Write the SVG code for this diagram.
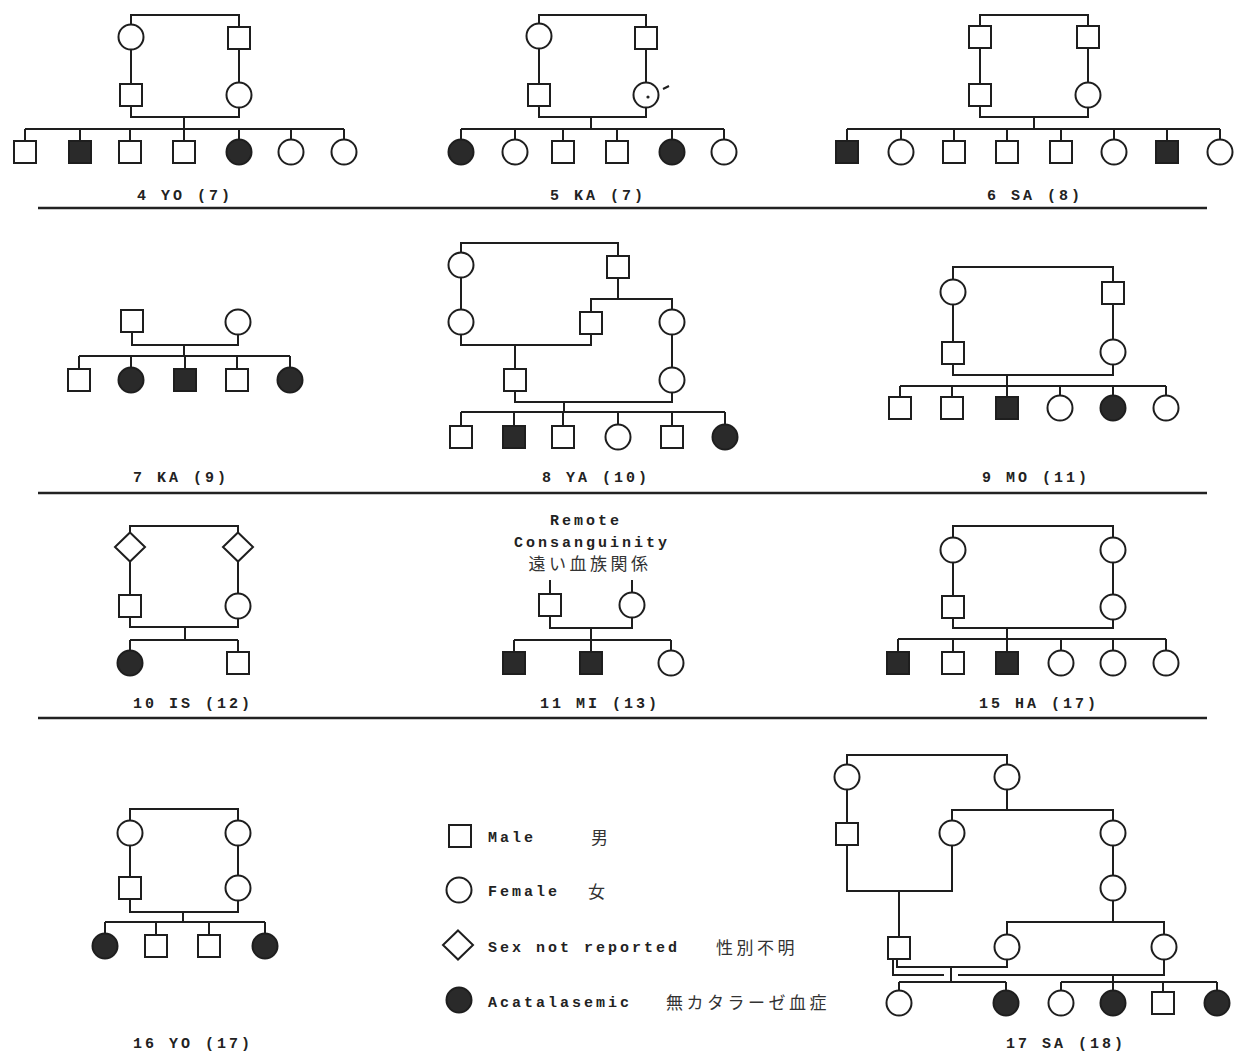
<svg xmlns="http://www.w3.org/2000/svg" xmlns:xlink="http://www.w3.org/1999/xlink" width="1235" height="1053" viewBox="0 0 1235 1053">
<style>
.o{fill:#fff;stroke:#1e1e1e;stroke-width:2}
.f{fill:#2a2a2a;stroke:#1e1e1e;stroke-width:2}
.c{fill:none;stroke:#1e1e1e;stroke-width:2}
.sep{stroke:#222;stroke-width:2.5}
.t{font-family:"Liberation Mono",monospace;font-weight:bold;font-size:15px;letter-spacing:3px;fill:#222}
.lb{text-anchor:middle}
.j{font-family:"Noto Sans CJK JP",sans-serif;font-size:17px;letter-spacing:3.5px;fill:#333}
</style>
<defs>
<rect id="sq" class="o" x="-11" y="-11" width="22" height="22"/>
<rect id="sqf" class="f" x="-11" y="-11" width="22" height="22"/>
<circle id="ci" class="o" r="12.5"/>
<circle id="cif" class="f" r="12.5"/>
<path id="di" class="o" d="M0,-14.5 L15,0 L0,14.5 L-15,0 Z"/>
</defs>
<rect width="1235" height="1053" fill="#fff"/>

<g id="separators">
<line class="sep" x1="38" y1="208" x2="1207" y2="208"/>
<line class="sep" x1="38" y1="493" x2="1207" y2="493"/>
<line class="sep" x1="38" y1="718" x2="1207" y2="718"/>
</g>

<g id="connectors">
<!-- 4 YO -->
<path class="c" d="M131,37 V15 H239 V38 M131,37 V95 M239,38 V95 M131,95 V117 H239 V95 M184,117 V129 M25,129 H344 M25,129 V152 M80,129 V152 M130,129 V152 M184,129 V152 M239,129 V152 M291,129 V152 M344,129 V152"/>
<!-- 5 KA -->
<path class="c" d="M539,36 V15 H646 V38 M539,36 V95 M646,38 V95 M539,95 V117 H646 V95 M591,117 V129 M461,129 H724 M461,129 V152 M515,129 V152 M563,129 V152 M617,129 V152 M672,129 V152 M724,129 V152"/>
<!-- 6 SA -->
<path class="c" d="M980,37 V15 H1088 V37 M980,37 V95 M1088,37 V95 M980,95 V117 H1088 V95 M1034,117 V129 M847,129 H1220 M847,129 V152 M901,129 V152 M954,129 V152 M1007,129 V152 M1061,129 V152 M1114,129 V152 M1167,129 V152 M1220,129 V152"/>
<!-- 7 KA -->
<path class="c" d="M132,321 V345 H238 V322 M184,345 V356 M79,356 H290 M79,356 V380 M131,356 V380 M185,356 V380 M237,356 V380 M290,356 V380"/>
<!-- 8 YA -->
<path class="c" d="M461,265 V243 H618 V267 M461,265 V322 M618,267 V299 M591,323 V299 H672 V322 M461,322 V345 H591 V323 M515,345 V380 M672,322 V380 M515,380 V402 H672 V380 M564,402 V412 M461,412 H725 M461,412 V437 M514,412 V437 M563,412 V437 M618,412 V437 M672,412 V437 M725,412 V437"/>
<!-- 9 MO -->
<path class="c" d="M953,292 V267 H1113 V293 M953,292 V353 M1113,293 V352 M953,353 V375 H1113 V352 M1007,375 V386 M900,386 H1166 M900,386 V408 M952,386 V408 M1007,386 V408 M1060,386 V408 M1113,386 V408 M1166,386 V408"/>
<!-- 10 IS -->
<path class="c" d="M130,547 V526 H238 V547 M130,547 V606 M238,547 V606 M130,606 V627 H238 V606 M185,627 V640 M130,640 H238 M130,640 V663 M238,640 V663"/>
<!-- 11 MI -->
<path class="c" d="M550,580 V605 M632,580 V605 M550,605 V628 H632 V605 M591,628 V640 M514,640 H671 M514,640 V663 M591,640 V663 M671,640 V663"/>
<!-- 15 HA -->
<path class="c" d="M953,550 V526 H1113 V550 M953,550 V607 M1113,550 V607 M953,607 V628 H1113 V607 M1007,628 V639 M898,639 H1166 M898,639 V663 M953,639 V663 M1007,639 V663 M1061,639 V663 M1113,639 V663 M1166,639 V663"/>
<!-- 16 YO -->
<path class="c" d="M130,833 V809 H238 V833 M130,833 V888 M238,833 V888 M130,888 V912 H238 V888 M183,912 V922 M105,922 H265 M105,922 V946 M156,922 V946 M209,922 V946 M265,922 V946"/>
<!-- 17 SA -->
<path class="c" d="M847,777 V755 H1007 V777 M847,777 V834 M1007,777 V810 M952,833 V810 H1113 V833 M847,834 V891 H952 V833 M899,891 V948 M1113,833 V922 M1007,947 V922 H1164 V947 M897,948 V967 H1007 V947 M893,948 V975 H944 M958,975 H1164 V947 M951,967 V982 M1113,975 V982 M899,982 H1006 M899,982 V1003 M1006,982 V1003 M1061,982 H1217 M1061,982 V1003 M1113,982 V1003 M1163,982 V1003 M1217,982 V1003"/>
</g>

<g id="ped4">
<g id="p4-gm"><use xlink:href="#ci" x="131" y="37"/></g>
<g id="p4-gf"><use xlink:href="#sq" x="239" y="38"/></g>
<g id="p4-f"><use xlink:href="#sq" x="131" y="95"/></g>
<g id="p4-m"><use xlink:href="#ci" x="239" y="95"/></g>
<g id="p4-c1"><use xlink:href="#sq" x="25" y="152"/></g>
<g id="p4-c2"><use xlink:href="#sqf" x="80" y="152"/></g>
<g id="p4-c3"><use xlink:href="#sq" x="130" y="152"/></g>
<g id="p4-c4"><use xlink:href="#sq" x="184" y="152"/></g>
<g id="p4-c5"><use xlink:href="#cif" x="239" y="152"/></g>
<g id="p4-c6"><use xlink:href="#ci" x="291" y="152"/></g>
<g id="p4-c7"><use xlink:href="#ci" x="344" y="152"/></g>
<text class="t lb" x="185" y="200">4 YO (7)</text>
</g>

<g id="ped5">
<g id="p5-gm"><use xlink:href="#ci" x="539" y="36"/></g>
<g id="p5-gf"><use xlink:href="#sq" x="646" y="38"/></g>
<g id="p5-f"><use xlink:href="#sq" x="539" y="95"/></g>
<g id="p5-m"><use xlink:href="#ci" x="646" y="95"/><circle cx="648" cy="97" r="1.6" fill="#222"/><path class="c" d="M663,89 L669,86" stroke-width="1.5"/></g>
<g id="p5-c1"><use xlink:href="#cif" x="461" y="152"/></g>
<g id="p5-c2"><use xlink:href="#ci" x="515" y="152"/></g>
<g id="p5-c3"><use xlink:href="#sq" x="563" y="152"/></g>
<g id="p5-c4"><use xlink:href="#sq" x="617" y="152"/></g>
<g id="p5-c5"><use xlink:href="#cif" x="672" y="152"/></g>
<g id="p5-c6"><use xlink:href="#ci" x="724" y="152"/></g>
<text class="t lb" x="598" y="200">5 KA (7)</text>
</g>

<g id="ped6">
<g id="p6-g1"><use xlink:href="#sq" x="980" y="37"/></g>
<g id="p6-g2"><use xlink:href="#sq" x="1088" y="37"/></g>
<g id="p6-f"><use xlink:href="#sq" x="980" y="95"/></g>
<g id="p6-m"><use xlink:href="#ci" x="1088" y="95"/></g>
<g id="p6-c1"><use xlink:href="#sqf" x="847" y="152"/></g>
<g id="p6-c2"><use xlink:href="#ci" x="901" y="152"/></g>
<g id="p6-c3"><use xlink:href="#sq" x="954" y="152"/></g>
<g id="p6-c4"><use xlink:href="#sq" x="1007" y="152"/></g>
<g id="p6-c5"><use xlink:href="#sq" x="1061" y="152"/></g>
<g id="p6-c6"><use xlink:href="#ci" x="1114" y="152"/></g>
<g id="p6-c7"><use xlink:href="#sqf" x="1167" y="152"/></g>
<g id="p6-c8"><use xlink:href="#ci" x="1220" y="152"/></g>
<text class="t lb" x="1035" y="200">6 SA (8)</text>
</g>

<g id="ped7">
<g id="p7-f"><use xlink:href="#sq" x="132" y="321"/></g>
<g id="p7-m"><use xlink:href="#ci" x="238" y="322"/></g>
<g id="p7-c1"><use xlink:href="#sq" x="79" y="380"/></g>
<g id="p7-c2"><use xlink:href="#cif" x="131" y="380"/></g>
<g id="p7-c3"><use xlink:href="#sqf" x="185" y="380"/></g>
<g id="p7-c4"><use xlink:href="#sq" x="237" y="380"/></g>
<g id="p7-c5"><use xlink:href="#cif" x="290" y="380"/></g>
<text class="t lb" x="181" y="482">7 KA (9)</text>
</g>

<g id="ped8">
<g id="p8-a"><use xlink:href="#ci" x="461" y="265"/></g>
<g id="p8-b"><use xlink:href="#sq" x="618" y="267"/></g>
<g id="p8-c"><use xlink:href="#ci" x="461" y="322"/></g>
<g id="p8-d"><use xlink:href="#sq" x="591" y="323"/></g>
<g id="p8-e"><use xlink:href="#ci" x="672" y="322"/></g>
<g id="p8-f"><use xlink:href="#sq" x="515" y="380"/></g>
<g id="p8-m"><use xlink:href="#ci" x="672" y="380"/></g>
<g id="p8-c1"><use xlink:href="#sq" x="461" y="437"/></g>
<g id="p8-c2"><use xlink:href="#sqf" x="514" y="437"/></g>
<g id="p8-c3"><use xlink:href="#sq" x="563" y="437"/></g>
<g id="p8-c4"><use xlink:href="#ci" x="618" y="437"/></g>
<g id="p8-c5"><use xlink:href="#sq" x="672" y="437"/></g>
<g id="p8-c6"><use xlink:href="#cif" x="725" y="437"/></g>
<text class="t lb" x="596" y="482">8 YA (10)</text>
</g>

<g id="ped9">
<g id="p9-gm"><use xlink:href="#ci" x="953" y="292"/></g>
<g id="p9-gf"><use xlink:href="#sq" x="1113" y="293"/></g>
<g id="p9-f"><use xlink:href="#sq" x="953" y="353"/></g>
<g id="p9-m"><use xlink:href="#ci" x="1113" y="352"/></g>
<g id="p9-c1"><use xlink:href="#sq" x="900" y="408"/></g>
<g id="p9-c2"><use xlink:href="#sq" x="952" y="408"/></g>
<g id="p9-c3"><use xlink:href="#sqf" x="1007" y="408"/></g>
<g id="p9-c4"><use xlink:href="#ci" x="1060" y="408"/></g>
<g id="p9-c5"><use xlink:href="#cif" x="1113" y="408"/></g>
<g id="p9-c6"><use xlink:href="#ci" x="1166" y="408"/></g>
<text class="t lb" x="1036" y="482">9 MO (11)</text>
</g>

<g id="ped10">
<g id="p10-g1"><use xlink:href="#di" x="130" y="547"/></g>
<g id="p10-g2"><use xlink:href="#di" x="238" y="547"/></g>
<g id="p10-f"><use xlink:href="#sq" x="130" y="606"/></g>
<g id="p10-m"><use xlink:href="#ci" x="238" y="606"/></g>
<g id="p10-c1"><use xlink:href="#cif" x="130" y="663"/></g>
<g id="p10-c2"><use xlink:href="#sq" x="238" y="663"/></g>
<text class="t lb" x="193" y="708">10 IS (12)</text>
</g>

<g id="ped11">
<text class="t lb" x="586" y="525">Remote</text>
<text class="t lb" x="592" y="547">Consanguinity</text>
<text class="j lb" x="590" y="570">遠い血族関係</text>
<g id="p11-f"><use xlink:href="#sq" x="550" y="605"/></g>
<g id="p11-m"><use xlink:href="#ci" x="632" y="605"/></g>
<g id="p11-c1"><use xlink:href="#sqf" x="514" y="663"/></g>
<g id="p11-c2"><use xlink:href="#sqf" x="591" y="663"/></g>
<g id="p11-c3"><use xlink:href="#ci" x="671" y="663"/></g>
<text class="t lb" x="600" y="708">11 MI (13)</text>
</g>

<g id="ped15">
<g id="p15-gm1"><use xlink:href="#ci" x="953" y="550"/></g>
<g id="p15-gm2"><use xlink:href="#ci" x="1113" y="550"/></g>
<g id="p15-f"><use xlink:href="#sq" x="953" y="607"/></g>
<g id="p15-m"><use xlink:href="#ci" x="1113" y="607"/></g>
<g id="p15-c1"><use xlink:href="#sqf" x="898" y="663"/></g>
<g id="p15-c2"><use xlink:href="#sq" x="953" y="663"/></g>
<g id="p15-c3"><use xlink:href="#sqf" x="1007" y="663"/></g>
<g id="p15-c4"><use xlink:href="#ci" x="1061" y="663"/></g>
<g id="p15-c5"><use xlink:href="#ci" x="1113" y="663"/></g>
<g id="p15-c6"><use xlink:href="#ci" x="1166" y="663"/></g>
<text class="t lb" x="1039" y="708">15 HA (17)</text>
</g>

<g id="ped16">
<g id="p16-gm1"><use xlink:href="#ci" x="130" y="833"/></g>
<g id="p16-gm2"><use xlink:href="#ci" x="238" y="833"/></g>
<g id="p16-f"><use xlink:href="#sq" x="130" y="888"/></g>
<g id="p16-m"><use xlink:href="#ci" x="238" y="888"/></g>
<g id="p16-c1"><use xlink:href="#cif" x="105" y="946"/></g>
<g id="p16-c2"><use xlink:href="#sq" x="156" y="946"/></g>
<g id="p16-c3"><use xlink:href="#sq" x="209" y="946"/></g>
<g id="p16-c4"><use xlink:href="#cif" x="265" y="946"/></g>
<text class="t lb" x="193" y="1048">16 YO (17)</text>
</g>

<g id="legend">
<g id="lg-male"><use xlink:href="#sq" x="460" y="836"/><text class="t" x="488" y="842">Male</text><text class="j" x="591" y="844">男</text></g>
<g id="lg-female"><use xlink:href="#ci" x="459" y="890"/><text class="t" x="488" y="896">Female</text><text class="j" x="588" y="898">女</text></g>
<g id="lg-unknown"><use xlink:href="#di" x="458" y="945"/><text class="t" x="488" y="952">Sex not reported</text><text class="j" x="716" y="954">性別不明</text></g>
<g id="lg-acat"><use xlink:href="#cif" x="459" y="1000"/><text class="t" x="488" y="1007">Acatalasemic</text><text class="j" x="666" y="1009">無カタラーゼ血症</text></g>
</g>

<g id="ped17">
<g id="p17-a"><use xlink:href="#ci" x="847" y="777"/></g>
<g id="p17-b"><use xlink:href="#ci" x="1007" y="777"/></g>
<g id="p17-c"><use xlink:href="#sq" x="847" y="834"/></g>
<g id="p17-d"><use xlink:href="#ci" x="952" y="833"/></g>
<g id="p17-e"><use xlink:href="#ci" x="1113" y="833"/></g>
<g id="p17-g"><use xlink:href="#ci" x="1113" y="888"/></g>
<g id="p17-f"><use xlink:href="#sq" x="899" y="948"/></g>
<g id="p17-w1"><use xlink:href="#ci" x="1007" y="947"/></g>
<g id="p17-w2"><use xlink:href="#ci" x="1164" y="947"/></g>
<g id="p17-c1"><use xlink:href="#ci" x="899" y="1003"/></g>
<g id="p17-c2"><use xlink:href="#cif" x="1006" y="1003"/></g>
<g id="p17-c3"><use xlink:href="#ci" x="1061" y="1003"/></g>
<g id="p17-c4"><use xlink:href="#cif" x="1113" y="1003"/></g>
<g id="p17-c5"><use xlink:href="#sq" x="1163" y="1003"/></g>
<g id="p17-c6"><use xlink:href="#cif" x="1217" y="1003"/></g>
<text class="t lb" x="1066" y="1048">17 SA (18)</text>
</g>
</svg>
